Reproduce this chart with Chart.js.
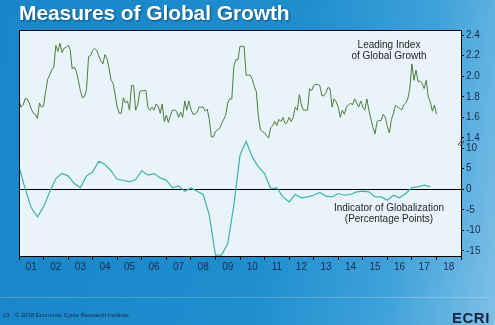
<!DOCTYPE html>
<html>
<head>
<meta charset="utf-8">
<title>Measures of Global Growth</title>
<script src="https://cdn.jsdelivr.net/npm/chart.js@4/dist/chart.umd.min.js"></script>
<style>
  html, body { margin: 0; padding: 0; }
  body {
    width: 495px; height: 325px; overflow: hidden; position: relative;
    background: linear-gradient(100deg, #1886c8 0%, #1e8ecf 55%, #3fa2da 80%, #7fc0e6 100%);
    font-family: "Liberation Sans", Arial, sans-serif;
  }
  #chart { position: absolute; left: 0; top: 0; }
  .title {
    position: absolute; left: 19px; top: 1px; color: #fff;
    font-weight: bold; font-size: 21px; white-space: nowrap; letter-spacing: -0.1px;
    text-shadow: 1px 1px 2px rgba(0, 0, 0, 0.45);
  }
  .note {
    position: absolute; width: 160px; margin-left: -80px;
    color: #262626; font-size: 10px; line-height: 11px; text-align: center;
  }
  .rule { position: absolute; left: 0; top: 297px; width: 488px; height: 1px; background: rgba(255,255,255,0.22); }
  .foot { position: absolute; left: 3px; top: 312px; color: #1b2a4a; font-size: 6px; white-space: nowrap; }
  .logo {
    position: absolute; left: 452px; top: 309px; color: #1a2442;
    font-weight: bold; font-size: 15px; letter-spacing: 0.5px;
  }
</style>
</head>
<body>
<canvas id="chart" width="495" height="325"></canvas>
<div class="title">Measures of Global Growth</div>
<div class="note" style="left:389px; top:39px;">Leading Index<br>of Global Growth</div>
<div class="note" style="left:389px; top:202px;">Indicator of Globalization<br>(Percentage Points)</div>
<div class="rule"></div>
<div class="foot">13&nbsp;&nbsp;&nbsp;© 2018 Economic Cycle Research Institute</div>
<div class="logo">ECRI</div>
<script>
// Leading index of global growth, monthly from Jan 2001
var leadingStart = 2001;
var leadingIndex = [
  1.76, 1.70, 1.72, 1.78, 1.78, 1.74, 1.68, 1.64, 1.63, 1.59, 1.74, 1.70,
  1.71, 1.85, 1.97, 2.01, 2.06, 2.09, 2.30, 2.24, 2.32, 2.23, 2.27, 2.28,
  2.30, 2.26, 2.07, 2.09, 2.05, 1.96, 1.86, 1.79, 1.80, 1.87, 2.19, 2.20,
  2.25, 2.27, 2.25, 2.20, 2.15, 2.12, 2.21, 2.17, 2.08, 1.96, 1.93, 1.82,
  1.70, 1.64, 1.64, 1.79, 1.74, 1.76, 1.67, 1.91, 1.91, 1.67, 1.72, 1.85,
  1.86, 1.86, 1.86, 1.70, 1.67, 1.70, 1.67, 1.73, 1.71, 1.64, 1.73, 1.56,
  1.62, 1.55, 1.62, 1.67, 1.67, 1.66, 1.60, 1.65, 1.60, 1.76, 1.67, 1.76,
  1.68, 1.63, 1.63, 1.65, 1.70, 1.70, 1.70, 1.66, 1.68, 1.58, 1.41, 1.41,
  1.46, 1.48, 1.49, 1.54, 1.58, 1.62, 1.74, 1.78, 1.78, 2.10, 2.16, 2.16,
  2.29, 2.29, 2.29, 2.01, 2.01, 2.01, 1.97, 1.90, 1.85, 1.60, 1.48, 1.46,
  1.45, 1.42, 1.40, 1.50, 1.52, 1.56, 1.52, 1.58, 1.56, 1.60, 1.54, 1.55,
  1.60, 1.56, 1.60, 1.70, 1.67, 1.82, 1.72, 1.67, 1.67, 1.67, 1.88, 1.86,
  1.91, 1.92, 1.92, 1.91, 1.81, 1.81, 1.84, 1.89, 1.88, 1.70, 1.78, 1.75,
  1.70, 1.60, 1.67, 1.63, 1.70, 1.72, 1.74, 1.72, 1.78, 1.74, 1.70, 1.76,
  1.70, 1.67, 1.78, 1.67, 1.58, 1.50, 1.44, 1.56, 1.57, 1.57, 1.63, 1.60,
  1.51, 1.45, 1.58, 1.64, 1.72, 1.70, 1.69, 1.67, 1.72, 1.74, 1.78, 1.88,
  2.12, 1.96, 2.06, 1.95, 1.95, 1.93, 1.88, 1.96, 1.80, 1.75, 1.66, 1.72,
  1.63
];

// Indicator of globalization (percentage points), quarterly from Q1 2001
var globalStart = 2001;
var globalization = [
  5.42, 0.16, -4.53, -6.72,
  -4.29, -0.65, 2.59, 3.80,
  3.24, 1.38, 0.40, 3.24,
  4.21, 6.80, 5.99, 4.45,
  2.35, 2.18, 1.78, 2.35,
  4.45, 3.40, 3.80, 2.75,
  2.18, 0.32, 0.81, -0.49,
  0.32, -0.49, -1.29, -6.31,
  -16.0, -16.0, -13.2, -3.88,
  8.25, 11.65, 7.85, 5.42,
  3.80, 0.16, 0.32, -1.86,
  -3.07, -1.29, -2.10, -1.86,
  -1.46, -0.81, -1.70, -1.86,
  -1.05, -1.46, -1.29, -0.65,
  -0.49, -0.65, -1.86, -1.86,
  -2.67, -1.46, -2.10, -1.05,
  0.40, 0.57, 0.97, 0.57
];

var yearLabels = ['01', '02', '03', '04', '05', '06', '07', '08', '09',
  '10', '11', '12', '13', '14', '15', '16', '17', '18'];
var leadingTicks = [1.4, 1.6, 1.8, 2.0, 2.2, 2.4];
var globalTicks = [-15, -10, -5, 0, 5, 10];

var leadingPoints = leadingIndex.map(function (v, i) {
  return { x: leadingStart + i / 12, y: v };
});
var globalPoints = globalization.map(function (v, i) {
  return { x: globalStart + i / 4, y: v };
});

// year boundaries get a tick mark, mid-years get the label
var xTicks = [];
for (var k = 0; k <= yearLabels.length * 2; k++) xTicks.push(2001 + k / 2);

var inkColor = '#1b2a4a';
var tickFont = { family: "'Liberation Sans Narrow', 'Liberation Sans', Arial, sans-serif", size: 10 };

// plot background, outer frame and the axis break mark
var framePlugin = {
  id: 'frame',
  beforeDraw: function (chart) {
    var a = chart.chartArea, c = chart.ctx;
    c.save();
    c.fillStyle = '#e9f4fa';
    c.fillRect(a.left, a.top, a.right - a.left, a.bottom - a.top);
    c.restore();
  },
  afterDraw: function (chart) {
    var a = chart.chartArea, c = chart.ctx;
    c.save();
    c.strokeStyle = '#000';
    c.lineWidth = 1;
    c.strokeRect(a.left + 0.5, a.top + 0.5, a.right - a.left, a.bottom - a.top);
    var yb = chart.scales.yTop.bottom;
    c.strokeStyle = '#333';
    c.beginPath();
    c.moveTo(a.right - 3, yb + 2); c.lineTo(a.right + 1, yb - 3);
    c.moveTo(a.right - 1, yb + 3); c.lineTo(a.right + 3, yb - 2);
    c.stroke();
    c.restore();
  }
};

var ctx = document.getElementById('chart').getContext('2d');
var chart = new Chart(ctx, {
  type: 'line',
  data: {
    datasets: [
      {
        label: 'Leading Index of Global Growth',
        data: leadingPoints,
        yAxisID: 'yTop',
        borderColor: '#4f7d3c',
        borderWidth: 1,
        pointRadius: 0,
        tension: 0,
        clip: false
      },
      {
        label: 'Indicator of Globalization',
        data: globalPoints,
        yAxisID: 'yBot',
        borderColor: '#3fb2ad',
        borderWidth: 1.2,
        pointRadius: 0,
        tension: 0,
        clip: false
      }
    ]
  },
  options: {
    responsive: false,
    animation: false,
    devicePixelRatio: 1,
    layout: { padding: { left: 19, top: 30, right: 0, bottom: 0 } },
    plugins: { legend: { display: false }, tooltip: { enabled: false } },
    scales: {
      x: {
        type: 'linear',
        min: 2001,
        max: 2019,
        afterBuildTicks: function (s) {
          s.ticks = xTicks.map(function (v) { return { value: v }; });
        },
        afterFit: function (s) { s.height = 69; },
        ticks: {
          autoSkip: false,
          maxRotation: 0,
          padding: 1,
          color: inkColor,
          font: tickFont,
          callback: function (v) {
            return v % 1 === 0.5 ? yearLabels[Math.floor(v) - 2001] : '';
          }
        },
        grid: {
          drawOnChartArea: false,
          tickLength: 4,
          tickColor: function (c) {
            return c.tick && c.tick.value % 1 === 0 ? '#000' : 'rgba(0,0,0,0)';
          }
        },
        border: { color: '#000', width: 1 }
      },
      yTop: {
        type: 'linear',
        position: 'right',
        stack: 'right',
        stackWeight: 1,
        min: 1.351,
        max: 2.449,
        afterBuildTicks: function (s) {
          s.ticks = leadingTicks.map(function (v) { return { value: v }; });
        },
        afterFit: function (s) { s.width = 34; },
        ticks: {
          autoSkip: false,
          padding: 2,
          color: inkColor,
          font: tickFont,
          callback: function (v) { return v.toFixed(1); }
        },
        grid: { drawOnChartArea: false, tickLength: 3, tickColor: '#000' },
        border: { color: '#000', width: 1 }
      },
      yBot: {
        type: 'linear',
        position: 'right',
        stack: 'right',
        stackWeight: 1,
        min: -16.22,
        max: 11.22,
        afterBuildTicks: function (s) {
          s.ticks = globalTicks.map(function (v) { return { value: v }; });
        },
        afterFit: function (s) { s.width = 34; },
        ticks: {
          autoSkip: false,
          padding: 2,
          color: inkColor,
          font: tickFont,
          callback: function (v) { return String(v); }
        },
        grid: {
          drawOnChartArea: true,
          tickLength: 3,
          tickColor: '#000',
          color: function (c) {
            return c.tick && c.tick.value === 0 ? '#000' : 'rgba(0,0,0,0)';
          }
        },
        border: { color: '#000', width: 1 }
      }
    }
  },
  plugins: [framePlugin]
});
</script>
</body>
</html>
